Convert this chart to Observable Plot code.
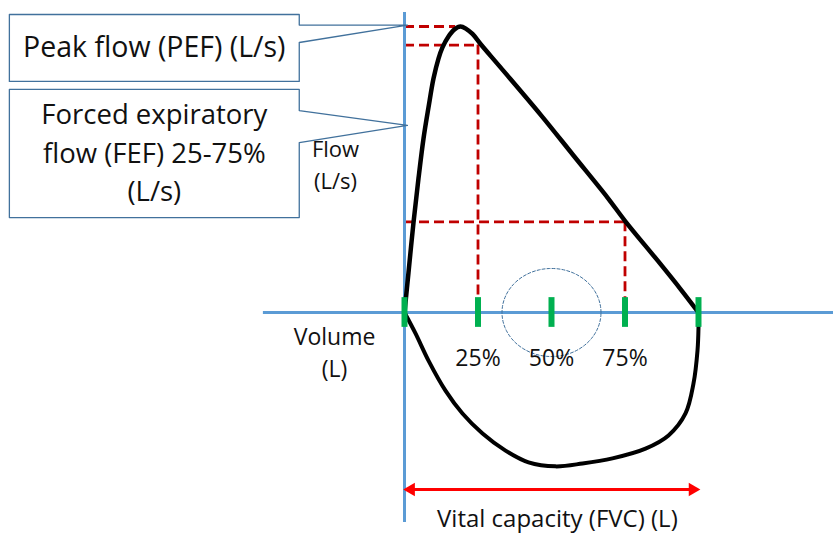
<!DOCTYPE html>
<html>
<head>
<meta charset="utf-8">
<script src="https://cdn.jsdelivr.net/npm/d3@7"></script>
<script src="https://cdn.jsdelivr.net/npm/@observablehq/plot@0.6"></script>
<style>
  html, body { margin: 0; padding: 0; background: #ffffff; }
  #chart svg { display: block; }
</style>
</head>
<body>
<div id="chart"></div>
<script>
// ---------- data (volume in L, flow in L/s) ----------
const FVC = 5;          // vital capacity (L)
const PEF = 10;         // peak expiratory flow (L/s)
const pefVolume = 0.87; // end of PEF dashed guide
const percentTicks = [0, 0.25, 0.5, 0.75, 1];
const percentLabels = ["25%", "50%", "75%"];
const fefAt25 = 9.35;   // flow at 25% of FVC
const fefAt75 = 3.17;   // flow at 75% of FVC

// expiratory limb (top)
const expVolume = [0, 0.068, 0.153, 0.238, 0.323, 0.408, 0.493, 0.578, 0.646, 0.748, 0.85, 0.952, 1.054, 1.156, 1.293, 1.633, 2.313, 2.874, 3.452, 3.759, 4.303, 4.694, 5.0];
const expFlow   = [0, 1.40, 3.15, 4.69, 6.08, 7.17, 8.18, 8.88, 9.27, 9.65, 9.90, 10.0, 9.91, 9.74, 9.39, 8.57, 6.92, 5.49, 4.02, 3.18, 1.82, 0.82, 0];

// inspiratory limb (bottom)
const inspVolume = [0, 0.187, 0.408, 0.697, 0.986, 1.327, 1.718, 2.109, 2.568, 3.027, 3.537, 4.099, 4.49, 4.779, 4.915, 4.983, 5.0, 5.0];
const inspFlow   = [0, -0.73, -1.68, -2.73, -3.53, -4.23, -4.83, -5.24, -5.38, -5.28, -5.10, -4.76, -4.30, -3.53, -2.48, -1.33, -0.52, 0];

// texts
const pefText = "Peak flow (PEF) (L/s)";
const fefText = "Forced expiratory\nflow (FEF) 25-75%\n(L/s)";
const flowAxisText = "Flow\n(L/s)";
const volumeAxisText = "Volume\n(L)";
const fvcText = "Vital capacity (FVC) (L)";

// ---------- layout (in scale units) ----------
const W = 833, H = 533;
const xDomain = [-6.871, 7.296];
const yDomain = [-7.727, 10.909];
const axisX = [-2.40, 7.30];
const axisY = [-7.34, 10.49];
const boxL = -6.72, boxR = -1.79, tipX = 0.05;
const pefBox = {top: 10.42, bottom: 8.08, w1: 10.05, w2: 9.44, tip: 10.05};
const fefBox = {top: 7.80, bottom: 3.32, w1: 7.06, w2: 5.94, tip: 6.54};
const arrowY = -6.19;

const callout = (b) => [
  [boxL, b.top], [boxR, b.top], [boxR, b.w1], [tipX, b.tip], [boxR, b.w2],
  [boxR, b.bottom], [boxL, b.bottom], [boxL, b.top]
];

const expData = expVolume.map((v, i) => ({v, f: expFlow[i]}));
const inspData = inspVolume.map((v, i) => ({v, f: inspFlow[i]}));
const tickData = percentTicks.map(p => p * FVC);
const labelData = percentLabels.map((t, i) => ({t, v: percentTicks[i + 1] * FVC}));

// dashed ellipse around 50%
const ellipse = d3.range(0, 361, 4).map(a => [
  0.5 * FVC + 0.842 * Math.cos(a * Math.PI / 180),
  1.54 * Math.sin(a * Math.PI / 180)
]);

const blue = "#5b9bd5";
const dark = "#c00000";
const green = "#00b050";
const boxStroke = "#41719c";
const dash = {stroke: dark, strokeWidth: 2.8, strokeDasharray: "10,5"};

const chart = Plot.plot({
  width: W,
  height: H,
  margin: 0,
  style: {fontFamily: "'Open Sans', sans-serif", background: "#ffffff", color: "#000"},
  x: {domain: xDomain, axis: null},
  y: {domain: yDomain, axis: null},
  marks: [
    // dashed guides
    Plot.ruleY([PEF], {x1: 0, x2: pefVolume, ...dash}),
    Plot.ruleY([fefAt25], {x1: 0, x2: 0.25 * FVC, ...dash}),
    Plot.ruleX([0.25 * FVC], {y1: fefAt25, y2: 0, ...dash}),
    Plot.ruleY([fefAt75], {x1: 0, x2: 0.75 * FVC, ...dash}),
    Plot.ruleX([0.75 * FVC], {y1: fefAt75, y2: 0, ...dash}),
    // axes
    Plot.ruleY([0], {x1: axisX[0], x2: axisX[1], stroke: blue, strokeWidth: 3}),
    Plot.ruleX([0], {y1: axisY[0], y2: axisY[1], stroke: blue, strokeWidth: 3}),
    // ellipse
    Plot.line(ellipse, {x: d => d[0], y: d => d[1], stroke: "#41719c", strokeWidth: 1, strokeDasharray: "3,2"}),
    // flow-volume loop
    Plot.line(expData, {x: "v", y: "f", curve: "catmull-rom", stroke: "#000", strokeWidth: 4.5, strokeLinejoin: "round"}),
    Plot.line(inspData, {x: "v", y: "f", curve: "catmull-rom", stroke: "#000", strokeWidth: 4, strokeLinejoin: "round"}),
    // green percent ticks
    Plot.ruleX(tickData, {x: d => d, y1: 0.52, y2: -0.52, stroke: green, strokeWidth: 6}),
    // percent labels
    Plot.text(labelData, {x: "v", y: -1.6, text: "t", fontSize: 23, fill: "#111"}),
    // axis labels
    Plot.text([volumeAxisText], {x: -1.19, y: -1.33, text: d => d, fontSize: 23, lineHeight: 1.4, fill: "#111"}),
    // FVC arrow
    Plot.ruleY([arrowY], {x1: 0.1, x2: FVC - 0.1, stroke: "#ff0000", strokeWidth: 3}),
    Plot.dot([0, FVC], {x: d => d === 0 ? 0.11 : FVC - 0.1, y: arrowY, symbol: "triangle", r: 5, fill: "#ff0000", stroke: "none", rotate: d => d === 0 ? -90 : 90}),
    Plot.text([fvcText], {x: 2.6, y: -7.22, text: d => d, fontSize: 24, fill: "#111"}),
    // callout boxes
    Plot.line(callout(pefBox), {x: d => d[0], y: d => d[1], stroke: boxStroke, strokeWidth: 1.3, fill: "#ffffff"}),
    Plot.line(callout(fefBox), {x: d => d[0], y: d => d[1], stroke: boxStroke, strokeWidth: 1.3, fill: "#ffffff"}),
    Plot.text([pefText], {x: (boxL + boxR) / 2, y: 9.27, text: d => d, fontSize: 28.5, fill: "#111"}),
    Plot.text([fefText], {x: (boxL + boxR) / 2, y: 5.66, text: d => d, fontSize: 27.5, lineHeight: 1.4, fill: "#111"}),
    // flow axis label (on top of the callout wedge)
    Plot.text([flowAxisText], {x: -1.173, y: 5.22, text: d => d, fontSize: 22, lineHeight: 1.45, fill: "#111"})
  ]
});
document.getElementById("chart").appendChild(chart);
</script>
</body>
</html>
